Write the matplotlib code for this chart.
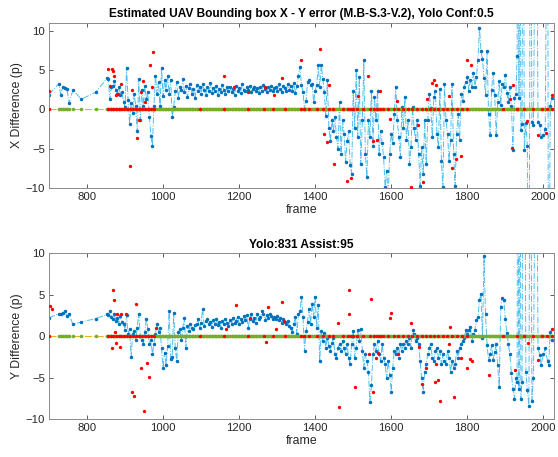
import numpy as np
import matplotlib
matplotlib.use("Agg")
import matplotlib.pyplot as plt

plt.rcParams["font.family"] = ["Liberation Sans", "DejaVu Sans"]

# --- data (frame numbers, pixel errors) ---
early_frames = [700, 726, 731, 736, 742, 747, 753, 763, 785, 823, 853]
dense_frames = [
    856, 860, 864, 868, 872, 876, 880, 884, 888, 892,
    896, 900, 904, 908, 912, 916, 920, 924, 928, 932,
    936, 940, 944, 948, 952, 956, 960, 964, 968, 972,
    976, 980, 984, 988, 992, 996, 1000, 1004, 1008, 1012,
    1016, 1020, 1024, 1028, 1032, 1036, 1040, 1044, 1048, 1052,
    1056, 1060, 1064, 1068, 1072, 1076, 1080, 1084, 1088, 1092,
    1096, 1100, 1104, 1108, 1112, 1116, 1120, 1124, 1128, 1132,
    1136, 1140, 1144, 1148, 1152, 1156, 1160, 1164, 1168, 1172,
    1176, 1180, 1184, 1188, 1192, 1196, 1200, 1204, 1208, 1212,
    1216, 1220, 1224, 1228, 1232, 1236, 1240, 1244, 1248, 1252,
    1256, 1260, 1264, 1268, 1272, 1276, 1280, 1284, 1288, 1292,
    1296, 1300, 1304, 1308, 1312, 1316, 1320, 1324, 1328, 1332,
    1336, 1340, 1344, 1348, 1352, 1356, 1360, 1364, 1368, 1372,
    1376, 1380, 1384, 1388, 1392, 1396, 1400, 1404, 1408, 1412,
    1416, 1420, 1424, 1428, 1432, 1436, 1440, 1444, 1448, 1452,
    1456, 1460, 1464, 1468, 1472, 1476, 1480, 1484, 1488, 1492,
    1496, 1500, 1504, 1508, 1512, 1516, 1520, 1524, 1528, 1532,
    1536, 1540, 1544, 1548, 1552, 1556, 1560, 1564, 1568, 1572,
    1576, 1580, 1584, 1588, 1592, 1596, 1600, 1604, 1608, 1612,
    1616, 1620, 1624, 1628, 1632, 1636, 1640, 1644, 1648, 1652,
    1656, 1660, 1664, 1668, 1672, 1676, 1680, 1684, 1688, 1692,
    1696, 1700, 1704, 1708, 1712, 1716, 1720, 1724, 1728, 1732,
    1736, 1740, 1744, 1748, 1752, 1756, 1760, 1764, 1768, 1772,
    1776, 1780, 1784, 1788, 1792, 1796, 1800, 1804, 1808, 1812,
    1816, 1820, 1824, 1828, 1832, 1836, 1840, 1844, 1848, 1852,
    1856, 1860, 1864, 1868, 1872, 1876, 1880, 1884, 1888, 1892,
    1896, 1900, 1904, 1908, 1912, 1916, 1920, 1924, 1928,
]
tail_frames = [1931, 1933, 1936, 1938, 1941, 1944, 1947, 1950, 1954, 1958,
               1962, 1966, 1970, 1974, 1981, 1986, 1991, 1994, 2000, 2005,
               2011, 2014, 2018, 2022]

early_x = [1.9, 3.3, 1.8, 2.9, 2.7, 2.6, 0.85, 2.5, 1.3, 2.2, 4.0]
dense_x = [
    3.9, 1.3, 2.8, 3.0, 3.6, 2.5, 2.0, 2.8, 1.9, 2.2,
    1.0, 0.3, 5.3, 1.2, -1.8, 0.8, -0.5, 2.0, 0.5, -2.8,
    3.9, -1.3, 2.5, 0.5, 3.0, 1.3, 2.2, -0.9, -3.4, -4.6,
    0.5, 4.3, 2.0, 3.5, 0.5, 5.3, 1.7, 3.7, 2.5, 4.3,
    2.0, 3.8, -1.0, 0.3, 2.3, 3.5, 1.5, 2.8, 2.5, 3.9,
    2.2, 3.0, 1.6, 2.7, 3.3, 2.0, 2.6, 1.4, 3.1, 2.4,
    2.8, 2.0, 3.2, 2.5, 1.8, 2.9, 2.3, 3.4, 2.1, 2.7,
    2.4, 3.0, 1.9, 2.6, 2.2, 3.1, 2.5, 2.0, 2.8, 2.3,
    2.9, 2.2, 2.6, 1.8, 3.0, 2.4, 2.7, 2.1, 3.2, 2.5,
    2.3, 2.8, 2.5, 3.0, 2.2, 2.6, 2.9, 2.4, 2.7, 2.1,
    2.8, 2.4, 3.1, 2.6, 2.2, 2.9, 2.5, 3.0, 2.3, 2.7,
    2.9, 2.4, 3.2, 2.6, 2.2, 3.0, 2.7, 2.3, 3.3, 2.5,
    3.0, 2.4, 3.4, 2.1, 3.0, 4.3, 5.4, 3.1, 2.2, 0.0,
    1.1, 3.5, 3.7, 3.1, 3.3, 0.9, 2.4, 3.1, 5.6, 2.9,
    5.7, 3.9, 2.2, -0.8, 3.7, -2.3, -4.0, -1.4, -2.7, -1.0,
    -3.5, -5.0, 0.9, -5.7, -1.4, -3.1, -6.7, -4.0, -2.7, -7.1,
    -8.2, 2.4, -2.3, 5.0, -3.5, 4.1, -7.0, -1.4, 6.3, -5.7,
    -8.6, -1.4, -3.5, 2.4, -4.6, 1.6, -1.4, 2.4, -5.7, -2.7,
    -4.3, -6.1, -9.9, -7.8, -11.0, -5.7, -3.1, -4.3, -0.6, 2.9,
    -1.4, -3.5, -6.1, 0.3, -2.3, 1.6, -3.9, -1.4, -6.9, -4.8,
    0.3, -2.3, -3.9, -1.4, -5.7, -9.7, -4.8, -8.2, -1.4, -6.9,
    -1.4, 2.0, 0.2, -3.5, 1.6, 2.4, -3.1, -4.8, 2.6, -6.5,
    -9.9, 3.3, -1.4, -3.1, -6.5, -3.9, 3.3, -5.7, -9.8, -3.1,
    -0.6, -3.9, 2.0, 1.1, 2.9, 3.5, 4.1, 2.4, 3.7, 2.9,
    4.6, 2.9, 4.1, 6.3, 10.4, 7.5, 6.4, 4.0, 1.9, 7.4,
    -0.6, -3.2, 2.5, 4.7, 1.9, -3.2, 1.0, 3.6, 0.6, 3.2,
    2.9, 4.4, 2.1, 1.0, 2.8, 0.5, -5.1, 1.5, 2.0,
]
tail_x = [6.8, 40, 1.5, 40, -2.6, -1.9, 40, -5.1, -1.7, -4.7,
          -40, 40, -1.6, -2.0, 40, -1.6, -2.0, -3.5, -3.3, -2.5,
          40, -40, 0.4, 1.5]

early_y = [2.2, 2.7, 2.6, 2.8, 3.0, 2.4, 2.6, 1.4, 1.7, 2.1, 2.6]
dense_y = [
    2.5, 3.0, 2.3, 2.0, 2.6, 1.8, 2.2, 1.5, 2.4, 1.7,
    1.5, 0.7, 2.5, 0.3, 0.8, -2.5, 0.3, 0.6, -0.5, 1.0,
    2.7, 0.0, -0.5, -1.0, 0.5, 2.0, 0.8, -1.0, -0.5, -2.2,
    -1.0, 0.3, 1.5, 0.5, 1.0, -1.5, -3.8, -2.0, -3.5, -1.2,
    3.0, -2.8, -2.5, 2.8, -1.5, -3.0, 0.5, 0.8, -0.5, 1.0,
    2.2, -1.5, 1.2, 0.6, 1.5, 1.0, 0.8, 1.3, 1.5, 2.0,
    1.0, 1.6, 3.3, 1.2, 1.8, 2.0, 1.4, 1.7, 1.1, 1.9,
    1.5, 2.0, 1.3, 1.7, 1.0, 1.8, 1.4, 2.1, 1.6, 1.2,
    1.9, 1.5, 2.2, 1.6, 1.8, 2.3, 1.4, 2.0, 1.7, 2.4,
    1.9, 2.5, 1.0, 2.1, 2.6, 1.8, 2.2, 1.6, 2.7, 2.0,
    2.3, 3.0, 2.6, 1.9, 2.5, 2.2, 2.7, 2.4, 2.0, 2.3,
    2.1, 2.4, 1.9, 2.2, 1.6, 2.0, 1.7, 1.4, 1.8, 1.2,
    1.0, 0.5, 1.5, 2.3, 0.3, 2.6, 3.0, 4.7, 2.3, -1.8,
    0.6, 1.7, 3.3, 1.5, 3.9, 2.3, 4.7, 1.0, 3.7, -3.0,
    0.6, -0.6, 0.4, -1.4, -0.2, -1.2, -1.8, -0.8, -0.2, -2.2,
    -2.6, -1.4, -1.0, -1.8, -0.6, -1.4, -2.2, -1.0, -2.6, -3.4,
    -1.0, 0.6, -2.6, -1.4, 0.7, -0.6, 0.9, -1.8, -3.8, -2.2,
    -3.0, -4.3, -7.9, -5.9, -2.2, -1.0, -1.8, -0.6, -2.2, -3.0,
    -1.0, -2.6, -3.4, -5.1, -3.0, -4.7, -6.7, -3.8, -1.8, -2.2,
    -1.4, -2.6, -1.0, -1.8, -1.0, -1.4, -0.6, -1.0, -0.2, -1.4,
    0.7, 0.2, -0.6, -0.2, -1.0, -3.0, -5.1, -6.7, -4.3, -3.4,
    -2.2, -1.4, -1.0, -2.6, -3.0, -1.8, -1.4, -2.6, -1.8, -3.4,
    -2.2, -3.0, -3.4, -1.8, -2.6, -4.3, -3.0, -3.8, -3.4, -1.8,
    -2.6, -1.4, -1.0, -0.6, -0.2, 0.7, 0.2, 0.7, 1.1, -0.6,
    0.2, 0.7, 1.9, 2.3, 4.3, 5.1, -0.2, 9.6, 2.6, -1.1,
    -2.9, -2.2, -1.1, -2.9, -1.9, -1.0, -3.5, -6.1, 3.5, 4.6,
    4.3, 2.0, 0.4, -1.0, -2.2, -4.5, -6.4, -7.6, -5.0,
]
tail_y = [-5.5, 40, -6.4, 40, -7.6, -5.5, 40, 40, -4.3, -6.5,
          -8.4, 40, -7.8, -5.0, 40, -1.5, -2.3, -3.5, -2.2, -1.5,
          -3.0, -3.5, 0.5, -0.5]

# assisted estimates (red), read separately for each panel
assist_frames_x = [700, 856, 861, 865, 869, 872, 876, 881, 890, 914, 919, 932,
                   938, 943, 948, 953, 965, 970, 974, 1160, 1187, 1223, 1267,
                   1291, 1313, 1364, 1413, 1424, 1430, 1437, 1450, 1485, 1494,
                   1513, 1538, 1551, 1562, 1570, 1597, 1614, 1652, 1671, 1683,
                   1693, 1706, 1713, 1718, 1753, 1759, 1770, 1783, 1798, 1810,
                   1912, 1917, 1919, 1957, 1987, 2007, 2023]
assist_x = [2.3, 5.2, 3.0, 5.1, 4.9, 4.2, 1.8, 2.0, 3.2, -7.2, 2.5, -3.6,
            -1.3, 2.2, 3.6, 0.9, 5.6, 2.8, 7.3, 4.2, 2.8, 2.2, 2.8,
            1.8, 4.0, 6.3, 7.7, -3.1, -4.2, 3.1, -6.9, -9.1, -8.7,
            1.7, 4.3, -4.0, -3.9, 2.3, -1.2, 1.1, -9.9, -2.0, -9.2,
            1.3, 3.4, 3.7, 3.1, 1.7, -7.4, -6.3, -5.9, 6.3, 5.6,
            1.3, -4.9, 3.1, -1.5, -3.3, -3.0, 1.8]
assist_frames_y = [702, 709, 867, 868, 871, 874, 877, 879, 886, 890, 903, 917,
                   923, 930, 941, 949, 959, 962, 981, 1165, 1191, 1228, 1270,
                   1275, 1297, 1312, 1318, 1460, 1463, 1489, 1490, 1506, 1541,
                   1547, 1553, 1560, 1565, 1597, 1600, 1617, 1652, 1672, 1681,
                   1692, 1714, 1718, 1722, 1727, 1752, 1754, 1766, 1784, 1798,
                   1807, 1812, 1858, 1925, 1959, 1987, 2022]
assist_y = [3.6, 3.2, -1.4, 5.6, 4.3, 0.5, -0.8, 2.7, -1.3, 2.7, 2.7, -6.8,
            -7.2, 3.9, -3.8, -9.0, -3.3, -4.9, 1.0, 0.8, 3.7, 2.2, -0.7,
            3.5, 0.9, 4.1, 1.8, 1.6, -8.5, 5.6, 2.6, -6.2, -2.2,
            4.5, -6.8, -2.6, -2.0, 2.2, 2.8, -2.2, 1.6, -1.3, -5.8,
            -3.8, -5.5, -3.4, -5.3, -7.8, -1.0, 1.1, -7.4, -2.6, -3.8,
            -2.8, -3.0, -4.7, -4.1, -0.9, -2.9, 0.9]

# frames marked red on the zero line
lost_frames = [700, 856, 862, 869, 876, 883, 890, 898, 905, 913, 921, 929,
               937, 945, 953, 961, 969, 977, 1096, 1161, 1223, 1265, 1290,
               1320, 1364, 1370, 1384, 1404, 1421, 1437, 1448, 1474, 1487,
               1493, 1500, 1511, 1527, 1544, 1555, 1563, 1570, 1579, 1592,
               1607, 1619, 1632, 1645, 1654, 1667, 1680, 1691, 1702, 1712,
               1724, 1735, 1746, 1759, 1772, 1785, 1798, 1895, 1930, 1948,
               1974, 1996, 2009, 2022]

frames = np.array(early_frames + dense_frames + tail_frames)
x_diff = np.array(early_x + dense_x + tail_x)
y_diff = np.array(early_y + dense_y + tail_y)

LIGHT_BLUE = "#4DBEEE"
BLUE = "#0072BD"
GREEN = "#77AC30"
YELLOW = "#EDB120"
AX_COL = "#404040"


def draw_panel(ax, diff, a_frames, a_vals, ylabel, title):
    ax.plot(frames, diff, "-.", color=LIGHT_BLUE, lw=0.7, zorder=1)
    ax.plot(frames, diff, ".", color=BLUE, ms=3.0, zorder=2)
    ax.plot(frames, np.zeros(len(frames)), "-.", color=YELLOW, lw=0.8, zorder=3)
    ax.plot(frames, np.zeros(len(frames)), ".", color=GREEN, ms=3.2, zorder=4)
    ax.plot(lost_frames, np.zeros(len(lost_frames)), ".", color="red",
            ms=2.8, zorder=5)
    ax.plot(a_frames, a_vals, ".", color="red", ms=2.8, zorder=6)

    ax.set_xlim(700, 2028)
    ax.set_xticks([800, 1000, 1200, 1400, 1600, 1800, 2000])
    ax.set_yticks([-10, -5, 0, 5, 10])
    ax.tick_params(direction="in", length=3, width=0.6, colors=AX_COL,
                   labelsize=8.2, labelcolor="#262626",
                   top=True, right=True, pad=3)
    for s in ax.spines.values():
        s.set_color("#8a8a8a")
        s.set_linewidth(0.7)
    ax.set_xlabel("frame", fontsize=8.8, color="#262626", labelpad=1)
    ax.set_ylabel(ylabel, fontsize=8.8, color="#262626", labelpad=2)
    ax.set_title(title, fontsize=8.6, fontweight="bold", pad=4)


fig = plt.figure(figsize=(5.58, 4.57), dpi=100)
ax1 = fig.add_axes([0.0878, 0.5886, 0.905, 0.361])
ax2 = fig.add_axes([0.0878, 0.0832, 0.905, 0.363])

draw_panel(ax1, x_diff, assist_frames_x, assist_x, "X Difference (p)",
           "Estimated UAV Bounding box X - Y error (M.B-S.3-V.2), Yolo Conf:0.5")
ax1.set_ylim(-10, 11)
draw_panel(ax2, y_diff, assist_frames_y, assist_y, "Y Difference (p)",
           "Yolo:831 Assist:95")
ax2.set_ylim(-10, 10)

fig.savefig("out.png", dpi=100)
